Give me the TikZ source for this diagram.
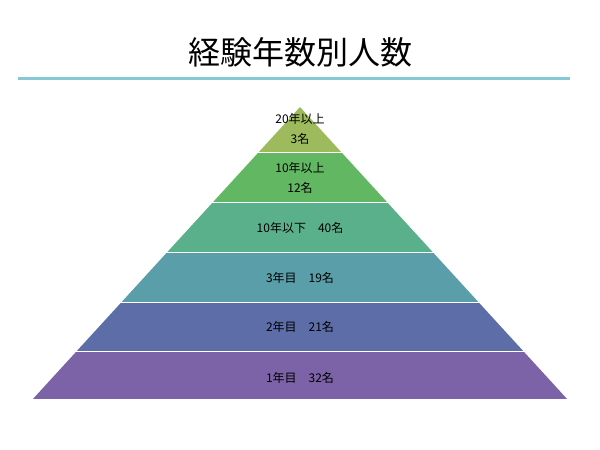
\documentclass[tikz,border=0pt]{standalone}
\usepackage{fontspec}
\setmainfont{Noto Sans CJK JP}
\definecolor{ruleblue}{HTML}{86C8D3}
\definecolor{lay1}{HTML}{9DBB5C}
\definecolor{lay2}{HTML}{62B862}
\definecolor{lay3}{HTML}{5BB08C}
\definecolor{lay4}{HTML}{5A9EA9}
\definecolor{lay5}{HTML}{5D6DA8}
\definecolor{lay6}{HTML}{7C62A6}
\tikzset{lbl/.style={font=\fontsize{12}{15}\selectfont, align=center}}
\begin{document}
\begin{tikzpicture}[x=1pt,y=-1pt]
 % page size in px
 \useasboundingbox (0,0) rectangle (600,450);
 \node[font=\fontsize{32}{36}\selectfont] (title) at (300,52) {経験年数別人数};
 \draw[ruleblue, line width=3] (18,78) -- (570,78);
 % layers: top y / bottom y / colour
 \def\apex{107}
 \foreach \ya/\yb/\col in {107/153/lay1, 153/203/lay2, 203/253/lay3, 253/303/lay4, 303/352/lay5, 352/400/lay6} {
   \pgfmathsetmacro\wa{(\ya-\apex)*0.9147}
   \pgfmathsetmacro\wb{(\yb-\apex)*0.9147}
   \fill[\col] (300-\wa,\ya) -- (300+\wa,\ya) -- (300+\wb,\yb) -- (300-\wb,\yb) -- cycle;
   \draw[white, line width=2] (300-\wb-3,\yb) -- (300+\wb+3,\yb);
 }
 \node[lbl] (l1) at (300,129) {20年以上\\[5pt]3名};
 \node[lbl] (l2) at (300,178) {10年以上\\[5pt]12名};
 \node[lbl] (l3) at (300,228) {10年以下\quad 40名};
 \node[lbl] (l4) at (300,278) {3年目\quad 19名};
 \node[lbl] (l5) at (300,327) {2年目\quad 21名};
 \node[lbl] (l6) at (300,378) {1年目\quad 32名};
\end{tikzpicture}
\end{document}
